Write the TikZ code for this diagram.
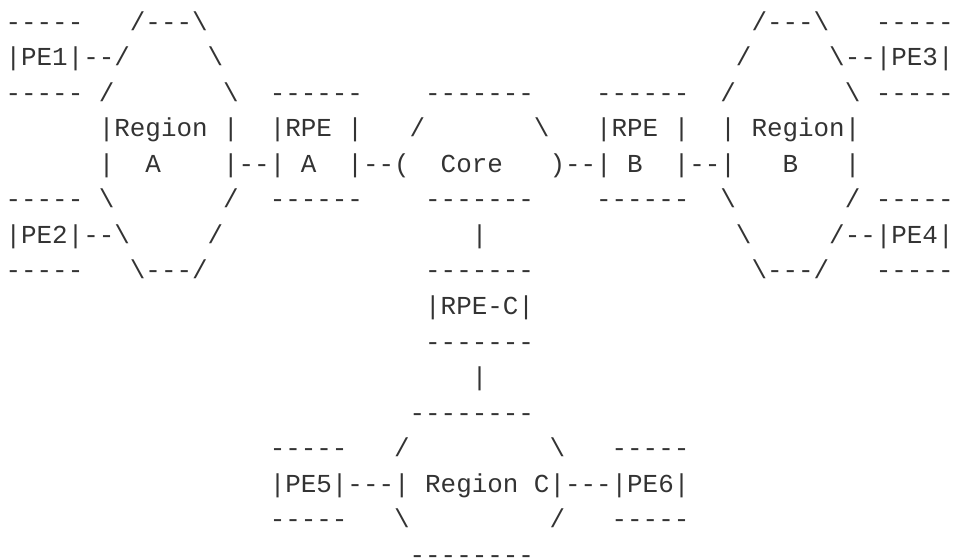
\documentclass[tikz,border=0pt]{standalone}
\usepackage{fontspec}
\setmonofont{Liberation Mono}
\definecolor{ink}{HTML}{333333}
\newcommand{\bsl}{\textbackslash}
\tikzset{asc/.style={anchor=base west, inner sep=0pt, outer sep=0pt, text=ink,
  font=\ttfamily\fontsize{25.9pt}{35.55pt}\selectfont}}
\newcommand{\seg}[4]{\node[asc] (#1) at (#2,#3) {#4};}
\begin{document}
\begin{tikzpicture}
\useasboundingbox (0pt,0pt) rectangle (956pt,-558pt);
\begin{scope}[shift={(5.6pt,-30.05pt)}, x=15.54pt, y=-35.55pt]
% row 0
\seg{a0}{0}{0}{-----}
\seg{b0}{8}{0}{/---\bsl}
\seg{c0}{48}{0}{/---\bsl}
\seg{d0}{56}{0}{-----}
% row 1
\seg{a1}{0}{1}{|PE1|--/}
\seg{b1}{13}{1}{\bsl}
\seg{c1}{47}{1}{/}
\seg{d1}{53}{1}{\bsl--|PE3|}
% row 2
\seg{a2}{0}{2}{-----~/}
\seg{b2}{14}{2}{\bsl}
\seg{c2}{17}{2}{------}
\seg{d2}{27}{2}{-------}
\seg{e2}{38}{2}{------}
\seg{f2}{46}{2}{/}
\seg{g2}{54}{2}{\bsl~-----}
% row 3
\seg{a3}{6}{3}{|Region~|}
\seg{b3}{17}{3}{|RPE~|}
\seg{c3}{26}{3}{/}
\seg{d3}{34}{3}{\bsl}
\seg{e3}{38}{3}{|RPE~|}
\seg{f3}{46}{3}{|~Region|}
% row 4
\seg{a4}{6}{4}{|}
\seg{b4}{9}{4}{A}
\seg{c4}{14}{4}{|--|}
\seg{d4}{19}{4}{A}
\seg{e4}{22}{4}{|--(}
\seg{f4}{28}{4}{Core}
\seg{g4}{35}{4}{)--|}
\seg{h4}{40}{4}{B}
\seg{i4}{43}{4}{|--|}
\seg{j4}{50}{4}{B}
\seg{k4}{54}{4}{|}
% row 5
\seg{a5}{0}{5}{-----~\bsl}
\seg{b5}{14}{5}{/}
\seg{c5}{17}{5}{------}
\seg{d5}{27}{5}{-------}
\seg{e5}{38}{5}{------}
\seg{f5}{46}{5}{\bsl}
\seg{g5}{54}{5}{/~-----}
% row 6
\seg{a6}{0}{6}{|PE2|--\bsl}
\seg{b6}{13}{6}{/}
\seg{c6}{30}{6}{|}
\seg{d6}{47}{6}{\bsl}
\seg{e6}{53}{6}{/--|PE4|}
% row 7
\seg{a7}{0}{7}{-----}
\seg{b7}{8}{7}{\bsl---/}
\seg{c7}{27}{7}{-------}
\seg{d7}{48}{7}{\bsl---/}
\seg{e7}{56}{7}{-----}
% rows 8-11
\seg{a8}{27}{8}{|RPE-C|}
\seg{a9}{27}{9}{-------}
\seg{a10}{30}{10}{|}
\seg{a11}{26}{11}{--------}
% row 12
\seg{a12}{17}{12}{-----}
\seg{b12}{25}{12}{/}
\seg{c12}{35}{12}{\bsl}
\seg{d12}{39}{12}{-----}
% row 13
\seg{a13}{17}{13}{|PE5|---|}
\seg{b13}{27}{13}{Region}
\seg{c13}{34}{13}{C|---|PE6|}
% row 14
\seg{a14}{17}{14}{-----}
\seg{b14}{25}{14}{\bsl}
\seg{c14}{35}{14}{/}
\seg{d14}{39}{14}{-----}
% row 15
\seg{a15}{26}{15}{--------}
\end{scope}
\end{tikzpicture}
\end{document}
